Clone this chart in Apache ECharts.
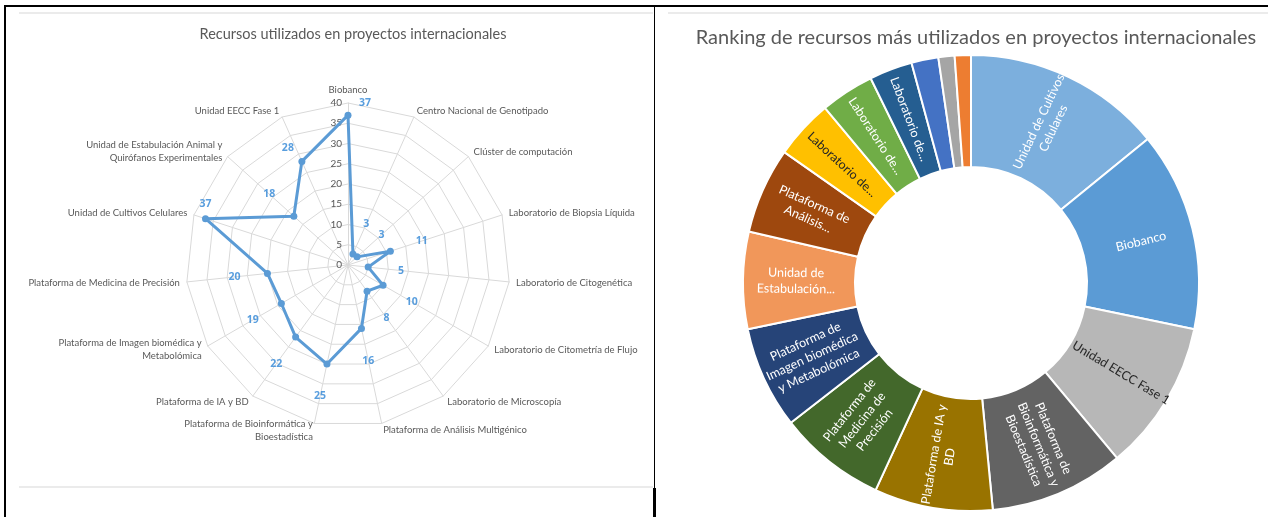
<!DOCTYPE html>
<html>
<head>
<meta charset="utf-8">
<script src="https://cdn.jsdelivr.net/npm/echarts@6/dist/echarts.min.js"></script>
<style>
  html, body { margin: 0; padding: 0; background: #fff; }
  #main { width: 1268px; height: 517px; }
</style>
</head>
<body>
<div id="main"></div>
<script>
// radar: resources used in international projects (clockwise from top)
const radarNames = [
  "Biobanco",
  "Centro Nacional de Genotipado",
  "Clúster de computación",
  "Laboratorio de Biopsia Líquida",
  "Laboratorio de Citogenética",
  "Laboratorio de Citometría de Flujo",
  "Laboratorio de Microscopía",
  "Plataforma de Análisis Multigénico",
  "Plataforma de Bioinformática y\nBioestadística",
  "Plataforma de IA y BD",
  "Plataforma de Imagen biomédica y\nMetabolómica",
  "Plataforma de Medicina de Precisión",
  "Unidad de Cultivos Celulares",
  "Unidad de Estabulación Animal y\nQuirófanos Experimentales",
  "Unidad EECC Fase 1"
];
const radarValues = [37, 3, 3, 11, 5, 10, 8, 16, 25, 22, 19, 20, 37, 18, 28];
const radarMax = 40;
const radarStep = 5;

// donut: ranking (clockwise from top)
const rankNames = [
  "Unidad de Cultivos Celulares", "Biobanco", "Unidad EECC Fase 1",
  "Plataforma de Bioinformática y Bioestadística", "Plataforma de IA y BD",
  "Plataforma de Medicina de Precisión", "Plataforma de Imagen biomédica y Metabolómica",
  "Unidad de Estabulación Animal y Quirófanos Experimentales", "Plataforma de Análisis Multigénico",
  "Laboratorio de Biopsia Líquida", "Laboratorio de Citometría de Flujo",
  "Laboratorio de Microscopía", "Laboratorio de Citogenética",
  "Centro Nacional de Genotipado", "Clúster de computación"
];
const rankValues = [37, 37, 28, 25, 22, 20, 19, 18, 16, 11, 10, 8, 5, 3, 3];
const rankLabels = [
  "Unidad de Cultivos\nCelulares", "Biobanco", "Unidad EECC Fase 1",
  "Plataforma de\nBioinformática y\nBioestadística", "Plataforma de IA y\nBD",
  "Plataforma de\nMedicina de\nPrecisión", "Plataforma de\nImagen biomédica\ny Metabolómica",
  "Unidad de\nEstabulación...", "Plataforma de\nAnálisis...",
  "Laboratorio de...", "Laboratorio de...", "Laboratorio de...", "", "", ""
];
const rankColors = [
  "#7CAFDD", "#5B9BD5", "#B7B7B7", "#636363", "#997300", "#43682B", "#264478",
  "#F1975A", "#9E480E", "#FFC000", "#70AD47", "#255E91", "#4472C4", "#A5A5A5", "#ED7D31"
];
const darkText = ["Unidad EECC Fase 1", "Laboratorio de Biopsia Líquida"];

var chart = echarts.init(document.getElementById("main"));
var font = "Lato, 'Open Sans', sans-serif";
var rc = [348, 265], rr = 162;

// echarts lays radar axes counter-clockwise, so feed them in reverse after the first
var order = radarValues.map(function (v, i) { return i === 0 ? 0 : radarValues.length - i; });

// value labels sit outward from each point; a few are nudged like in the original
var nudge = { 0: [17, -12], 12: [0, -15], 14: [-14, -13] };
var labelPoints = radarValues.map(function (v, i) {
  var a = 2 * Math.PI * i / radarValues.length;
  var off = nudge[i] || [33 * Math.sin(a), -33 * Math.cos(a)];
  return { value: [v, i], label: { offset: off } };
});

chart.setOption({
  animation: false,
  title: [
    {
      text: "Recursos utilizados en proyectos internacionales",
      left: 348, top: 22, textAlign: "center",
      textStyle: { fontFamily: font, fontSize: 14.5, fontWeight: "normal", color: "#595959" }
    },
    {
      text: "Ranking de recursos más utilizados en proyectos internacionales",
      left: 971, top: 23, textAlign: "center",
      textStyle: { fontFamily: font, fontSize: 20, fontWeight: "normal", color: "#595959" }
    }
  ],
  radar: {
    center: rc,
    radius: rr,
    shape: "polygon",
    splitNumber: radarMax / radarStep,
    nameGap: 7,
    axisName: { color: "#595959", fontFamily: font, fontSize: 9.5, lineHeight: 13 },
    axisLine: { lineStyle: { color: "#D9D9D9" } },
    splitLine: { lineStyle: { color: "#D9D9D9" } },
    splitArea: { show: false },
    axisTick: { show: false },
    axisLabel: { show: false },
    indicator: order.map(function (k, i) {
      var ind = { name: radarNames[k], min: 0, max: radarMax };
      if (i === 0) {
        ind.axisLabel = { show: true, color: "#595959", fontFamily: font, fontSize: 10, margin: 6 };
      }
      return ind;
    })
  },
  polar: { center: rc, radius: rr },
  angleAxis: {
    type: "category", data: radarNames, boundaryGap: false,
    startAngle: 90, show: false
  },
  radiusAxis: { min: 0, max: radarMax, show: false },
  series: [
    {
      type: "radar",
      symbol: "circle",
      symbolSize: 7,
      lineStyle: { color: "#5B9BD5", width: 3 },
      itemStyle: { color: "#5B9BD5" },
      data: [{ value: order.map(function (k) { return radarValues[k]; }), name: "Recursos" }]
    },
    {
      type: "scatter",
      coordinateSystem: "polar",
      symbolSize: 0,
      silent: true,
      label: {
        show: true, position: "inside",
        formatter: function (p) { return p.value[0]; },
        color: "#2F86D6", fontWeight: "bold", fontSize: 10.5, fontFamily: "'Open Sans', sans-serif"
      },
      data: labelPoints
    },
    {
      type: "pie",
      center: [971, 283],
      radius: [116, 228],
      startAngle: 90,
      clockwise: true,
      avoidLabelOverlap: false,
      itemStyle: { borderColor: "#fff", borderWidth: 2 },
      label: {
        show: true, position: "inside", rotate: "radial",
        fontFamily: font, fontSize: 12.5, lineHeight: 16,
        formatter: function (p) { return rankLabels[p.dataIndex]; }
      },
      labelLine: { show: false },
      data: rankNames.map(function (n, i) {
        return {
          name: n, value: rankValues[i],
          itemStyle: { color: rankColors[i] },
          label: { color: darkText.indexOf(n) >= 0 ? "#262626" : "#ffffff" }
        };
      })
    }
  ],
  graphic: [
    // page frame
    { type: "rect", shape: { x: 4, y: 5, width: 1264, height: 2 }, style: { fill: "#000" } },
    { type: "rect", shape: { x: 4, y: 5, width: 2, height: 512 }, style: { fill: "#000" } },
    { type: "rect", shape: { x: 654, y: 5, width: 1, height: 483 }, style: { fill: "#000" } },
    { type: "rect", shape: { x: 653, y: 488, width: 3, height: 29 }, style: { fill: "#000" } },
    // chart borders
    { type: "rect", shape: { x: 19, y: 12, width: 634, height: 2 }, style: { fill: "#EBEBEB" } },
    { type: "rect", shape: { x: 668, y: 12, width: 600, height: 2 }, style: { fill: "#EBEBEB" } },
    { type: "rect", shape: { x: 19, y: 486, width: 634, height: 2 }, style: { fill: "#EBEBEB" } }
  ]
});
</script>
</body>
</html>
